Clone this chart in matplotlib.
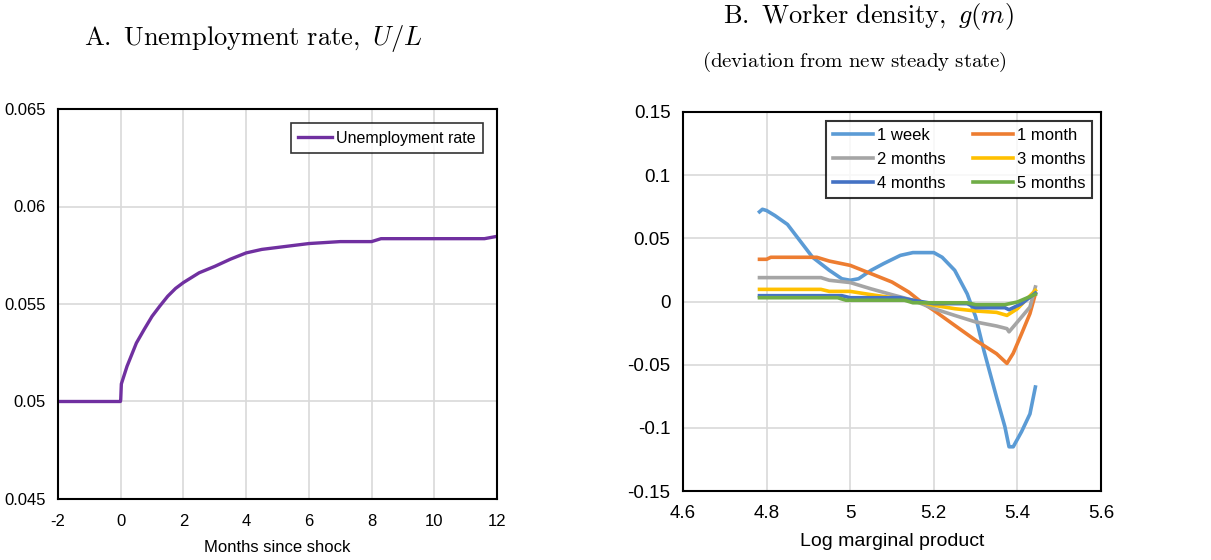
import matplotlib.pyplot as plt

plt.rcParams['font.family'] = ['Liberation Sans', 'DejaVu Sans']
plt.rcParams['mathtext.fontset'] = 'cm'
plt.rcParams['axes.unicode_minus'] = False

# panel A: unemployment rate
months = [-2.0, -1.0, -0.01, 0.0, 0.02, 0.1, 0.2, 0.35, 0.5, 0.75, 1.0, 1.25, 1.5, 1.75, 2.0,
          2.5, 3.0, 3.5, 4.0, 4.5, 5.0, 5.5, 6.0, 7.0, 8.0, 8.3, 9.0, 10.0, 11.0, 11.6, 12.0]
urate = [0.0500, 0.0500, 0.0500, 0.0501, 0.0509, 0.0513, 0.0518, 0.0524, 0.0530, 0.0537, 0.05437,
         0.0549, 0.0554, 0.0558, 0.0561, 0.0566, 0.05693, 0.0573, 0.05762, 0.0578, 0.0579, 0.0580,
         0.0581, 0.0582, 0.0582, 0.05835, 0.05835, 0.05835, 0.05835, 0.05835, 0.05847]

# panel B: worker density deviations
m_week = [4.783, 4.79, 4.80, 4.82, 4.85, 4.88, 4.91, 4.95, 4.98, 5.0, 5.02, 5.05, 5.08, 5.12, 5.15,
          5.2, 5.22, 5.25, 5.28, 5.30, 5.32, 5.35, 5.37, 5.38, 5.39, 5.41, 5.43, 5.443]
g_week = [0.071, 0.073, 0.072, 0.068, 0.061, 0.048, 0.035, 0.0247, 0.018, 0.0168, 0.018, 0.0247,
          0.030, 0.0365, 0.0387, 0.0387, 0.035, 0.0247, 0.006, -0.012, -0.039, -0.0756, -0.099,
          -0.115, -0.115, -0.103, -0.089, -0.0677]

m_month = [4.783, 4.80, 4.81, 4.92, 4.95, 5.0, 5.05, 5.1, 5.14, 5.17, 5.2, 5.25, 5.3, 5.35, 5.375,
           5.39, 5.41, 5.43, 5.443]
g_month = [0.0334, 0.0334, 0.035, 0.035, 0.032, 0.0286, 0.022, 0.0154, 0.0075, -0.0004, -0.007,
           -0.0189, -0.0307, -0.0413, -0.049, -0.041, -0.0255, -0.0096, 0.006]

m_2m = [4.783, 4.93, 4.95, 5.0, 5.05, 5.1, 5.15, 5.2, 5.25, 5.3, 5.35, 5.375, 5.38, 5.4, 5.43, 5.443]
g_2m = [0.0189, 0.0189, 0.0168, 0.015, 0.010, 0.0054, 0.001, -0.0057, -0.011, -0.0162, -0.0194,
        -0.0215, -0.024, -0.0162, -0.0044, 0.0115]

m_3m = [4.783, 4.93, 4.95, 5.0, 5.05, 5.1, 5.15, 5.2, 5.25, 5.3, 5.35, 5.375, 5.4, 5.443]
g_3m = [0.0096, 0.0096, 0.008, 0.008, 0.0054, 0.003, 0.0009, -0.003, -0.0057, -0.0075, -0.0086,
        -0.011, -0.0057, 0.0088]

m_4m = [4.783, 4.98, 5.0, 5.12, 5.15, 5.2, 5.28, 5.3, 5.37, 5.38, 5.41, 5.443]
g_4m = [0.0046, 0.0046, 0.003, 0.003, 0.001, -0.0017, -0.0017, -0.0049, -0.0049, -0.0065,
        -0.0017, 0.0067]

m_5m = [4.783, 4.97, 4.99, 5.13, 5.15, 5.28, 5.3, 5.37, 5.4, 5.443]
g_5m = [0.003, 0.003, 0.001, 0.001, -0.001, -0.001, -0.0025, -0.0025, -0.0004, 0.0057]

series_b = [
    ("1 week", m_week, g_week, "#5B9BD5"),
    ("1 month", m_month, g_month, "#ED7D31"),
    ("2 months", m_2m, g_2m, "#A5A5A5"),
    ("3 months", m_3m, g_3m, "#FFC000"),
    ("4 months", m_4m, g_4m, "#4472C4"),
    ("5 months", m_5m, g_5m, "#70AD47"),
]

fig = plt.figure(figsize=(12.11, 5.6), dpi=100)
W, H = 1211, 560

# panel A
ax1 = fig.add_axes([58 / W, 1 - 499 / H, (497 - 58) / W, (499 - 109) / H])
ax1.plot(months, urate, color="#7030A0", lw=2.4, label="Unemployment rate")
ax1.set_xlim(-2, 12)
ax1.set_ylim(0.045, 0.065)
ax1.set_xticks(range(-2, 13, 2))
ax1.set_yticks([0.045, 0.05, 0.055, 0.06, 0.065])
ax1.set_yticklabels(["0.045", "0.05", "0.055", "0.06", "0.065"])
ax1.set_xlabel("Months since shock", fontsize=12, labelpad=8)
ax1.tick_params(axis="x", labelsize=12, length=0, pad=11)
ax1.tick_params(axis="y", labelsize=12, length=0, pad=9)
ax1.grid(True, color="#D9D9D9", lw=1.2)
ax1.set_axisbelow(True)
for s in ax1.spines.values():
    s.set_linewidth(1.5)
leg1 = ax1.legend(loc="upper right", fontsize=11.5, frameon=True, fancybox=False,
                  edgecolor="black", handlelength=2.1, handletextpad=0.25,
                  borderaxespad=0.9, borderpad=0.45)
leg1.get_frame().set_linewidth(1.2)
fig.text(253 / W, 1 - 38 / H, r"$\mathrm{A.\ Unemployment\ rate,}\ U/L$",
         ha="center", va="center", fontsize=19)

# panel B
ax2 = fig.add_axes([683 / W, 1 - 491 / H, (1101 - 683) / W, (491 - 112) / H])
for name, mx, gy, col in series_b:
    ax2.plot(mx, gy, color=col, lw=2.6, label=name)
ax2.set_xlim(4.6, 5.6)
ax2.set_ylim(-0.15, 0.15)
ax2.set_xticks([4.6, 4.8, 5.0, 5.2, 5.4, 5.6])
ax2.set_xticklabels(["4.6", "4.8", "5", "5.2", "5.4", "5.6"])
ax2.set_yticks([-0.15, -0.1, -0.05, 0, 0.05, 0.1, 0.15])
ax2.set_yticklabels(["-0.15", "-0.1", "-0.05", "0", "0.05", "0.1", "0.15"])
ax2.set_xlabel("Log marginal product", fontsize=14, labelpad=8)
ax2.tick_params(axis="x", labelsize=13.5, length=0, pad=10)
ax2.tick_params(axis="y", labelsize=13.5, length=0, pad=9)
ax2.grid(True, color="#D9D9D9", lw=1.2)
ax2.set_axisbelow(True)
for s in ax2.spines.values():
    s.set_linewidth(1.5)
# legend filled row by row
hs, ls = ax2.get_legend_handles_labels()
order = [0, 2, 4, 1, 3, 5]
leg2 = ax2.legend([hs[i] for i in order], [ls[i] for i in order], loc="upper right", ncol=2,
                  fontsize=12, frameon=True, fancybox=False, edgecolor="black",
                  handlelength=2.4, handletextpad=0.25, columnspacing=1.6,
                  labelspacing=0.55, borderaxespad=0.55, borderpad=0.4)
leg2.get_frame().set_linewidth(1.5)
fig.text(868 / W, 1 - 17 / H, r"$\mathrm{B.\ Worker\ density,}\ g(m)$",
         ha="center", va="center", fontsize=19)
fig.text(854 / W, 1 - 62 / H, r"$\mathrm{(deviation\ from\ new\ steady\ state)}$",
         ha="center", va="center", fontsize=15)

fig.savefig("out.png", dpi=100)
